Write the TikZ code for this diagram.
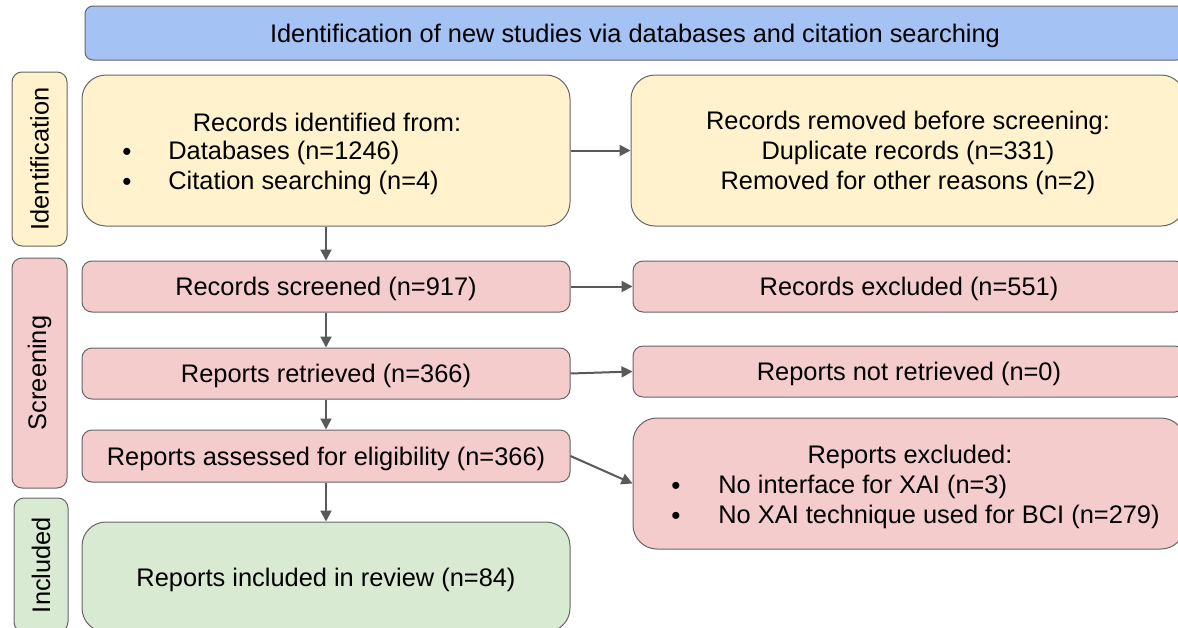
\documentclass[tikz,border=0pt]{standalone}
\usepackage{fontspec}
\setmainfont{Liberation Sans}
\usepackage{xcolor}
\usetikzlibrary{arrows.meta}
\definecolor{headblue}{HTML}{A4C2F4}
\definecolor{idyellow}{HTML}{FFF2CC}
\definecolor{scrpink}{HTML}{F4CCCC}
\definecolor{incgreen}{HTML}{D9EAD3}
\definecolor{edgegray}{HTML}{666666}
\definecolor{arrgray}{HTML}{595959}

\begin{document}
\begin{tikzpicture}[x=0.5pt,y=-0.5pt,
  every node/.style={font=\fontsize{12.7}{15}\selectfont},
  box/.style={draw=edgegray,line width=0.5pt,inner sep=0pt,align=center,text depth=0pt},
  dot/.style={font=\fontsize{13}{15}\selectfont,inner sep=0pt,anchor=base,text height=5pt,text depth=0pt},
  flow/.style={draw=arrgray,line width=1pt,-{Triangle[length=5.5pt,width=5.5pt]}}]
\useasboundingbox (0,0) rectangle (1178,627);
% header
\node[box,fill=headblue,rounded corners=4pt,minimum width=550pt,minimum height=27pt] (head) at (635,33)
  {Identification of new studies via databases and citation searching};
% side labels
\node[box,fill=idyellow,rounded corners=5pt,minimum width=27.5pt,minimum height=87pt] (labid) at (39.5,159)
  {\rotatebox{90}{Identification}};
\node[box,fill=scrpink,rounded corners=5pt,minimum width=27.5pt,minimum height=115pt] (labscr) at (39.5,373)
  {\rotatebox{90}{Screening}};
\node[box,fill=incgreen,rounded corners=5pt,minimum width=27pt,minimum height=67pt] (labinc) at (41,565)
  {\rotatebox{90}{Included}};
% identification
\node[box,fill=idyellow,rounded corners=12pt,minimum width=244pt,minimum height=75.5pt] (ident) at (326,150.5) {};
\node (identh) at (327,122) {Records identified from:};
\node[dot] (identb1) at (127,160) {\textbullet};
\node[dot] (identb2) at (127,190) {\textbullet};
\node[anchor=west,inner sep=0pt] (identi1) at (168,153) {Databases (n=1246)};
\node[anchor=west,inner sep=0pt] (identi2) at (168,183) {Citation searching (n=4)};
\node[box,fill=idyellow,rounded corners=12pt,minimum width=277pt,minimum height=75.5pt] (removed) at (908,150.5)
  {Records removed before screening:\\ Duplicate records (n=331)\\ Removed for other reasons (n=2)};
% screening
\node[box,fill=scrpink,rounded corners=5pt,minimum width=244pt,minimum height=25.5pt] (screened) at (326,286.5)
  {Records screened (n=917)};
\node[box,fill=scrpink,rounded corners=5pt,minimum width=276pt,minimum height=25.5pt] (excluded) at (909,286.5)
  {Records excluded (n=551)};
\node[box,fill=scrpink,rounded corners=5pt,minimum width=244pt,minimum height=25.5pt] (retrieved) at (326,373.5)
  {Reports retrieved (n=366)};
\node[box,fill=scrpink,rounded corners=5pt,minimum width=276pt,minimum height=25.5pt] (notretr) at (909,371.5)
  {Reports not retrieved (n=0)};
\node[box,fill=scrpink,rounded corners=5pt,minimum width=244pt,minimum height=26pt] (assessed) at (326,456)
  {Reports assessed for eligibility (n=366)};
\node[box,fill=scrpink,rounded corners=12pt,minimum width=276pt,minimum height=65.5pt] (repexcl) at (909,483.5) {};
\node (repexclh) at (910,457) {Reports excluded:};
\node[dot] (repexclb1) at (676,494) {\textbullet};
\node[dot] (repexclb2) at (676,524) {\textbullet};
\node[anchor=west,inner sep=0pt] (repexcli1) at (718,487) {No interface for XAI (n=3)};
\node[anchor=west,inner sep=0pt] (repexcli2) at (718,517) {No XAI technique used for BCI (n=279)};
% included
\node[box,fill=incgreen,rounded corners=12pt,minimum width=244pt,minimum height=55pt] (included) at (326,577)
  {Reports included in review (n=84)};
% arrows
\draw[flow] (ident) -- (screened);
\draw[flow] (screened) -- (retrieved);
\draw[flow] (retrieved) -- (assessed);
\draw[flow] (assessed) -- (included);
\draw[flow] (ident.east) -- (removed.west);
\draw[flow] (screened.east) -- (excluded.west);
\draw[flow] (retrieved.east) -- (notretr.west);
\draw[flow] (assessed.east) -- (repexcl.west);
\end{tikzpicture}
\end{document}
